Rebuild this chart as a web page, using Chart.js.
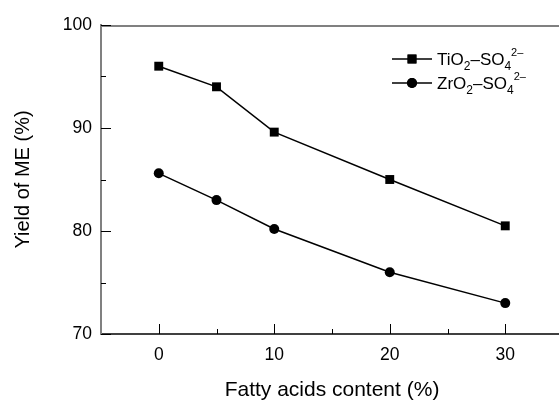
<!DOCTYPE html>
<html>
<head>
<meta charset="utf-8">
<script src="https://cdn.jsdelivr.net/npm/chart.js@4"></script>
<style>
  html, body { margin: 0; padding: 0; background: #fff; overflow: hidden; }
  #wrap { width: 570px; height: 401px; }
</style>
</head>
<body>
<div id="wrap"><canvas id="yieldChart" width="570" height="401"></canvas></div>
<script>
var fattyAcids = [0, 5, 10, 20, 30];
var tio2Yield = [96, 94, 89.6, 85, 80.5];
var zro2Yield = [85.6, 83, 80.2, 76, 73];
var xTicks = [0, 10, 20, 30];
var yTicks = [70, 80, 90, 100];

// legend text pieces: [text, "" | "sub" | "sup"]
var tio2Name = [["TiO", ""], ["2", "sub"], ["\u2013SO", ""], ["4", "sub"], ["2\u2013", "sup"]];
var zro2Name = [["ZrO", ""], ["2", "sub"], ["\u2013SO", ""], ["4", "sub"], ["2\u2013", "sup"]];

var FONT = "'Liberation Sans', Arial, sans-serif";

function points(ys) {
  var out = [];
  for (var i = 0; i < fattyAcids.length; i++) {
    out.push({ x: fattyAcids[i], y: ys[i] });
  }
  return out;
}

var frame = {
  id: "frame",
  afterDraw: function (chart) {
    var ctx = chart.ctx;
    var a = chart.chartArea;
    var x = chart.scales.x;
    var y = chart.scales.y;
    ctx.save();
    // top border
    ctx.strokeStyle = "#808080";
    ctx.lineWidth = 2;
    ctx.beginPath();
    ctx.moveTo(a.left, a.top + 1);
    ctx.lineTo(a.right, a.top + 1);
    ctx.stroke();

    // inward ticks
    ctx.strokeStyle = "#000";
    ctx.lineWidth = 1;
    ctx.beginPath();
    for (var i = 0; i < xTicks.length; i++) {
      var px = Math.round(x.getPixelForValue(xTicks[i])) + 0.5;
      ctx.moveTo(px, a.bottom);
      ctx.lineTo(px, a.bottom - 10);
      var mx = Math.round(x.getPixelForValue(xTicks[i] + 5)) + 0.5;
      ctx.moveTo(mx, a.bottom);
      ctx.lineTo(mx, a.bottom - 5);
    }
    for (var j = 0; j < yTicks.length; j++) {
      var py = Math.round(y.getPixelForValue(yTicks[j])) + 0.5;
      ctx.moveTo(a.left, py);
      ctx.lineTo(a.left + 10, py);
      if (j < yTicks.length - 1) {
        var my = Math.round(y.getPixelForValue(yTicks[j] + 5)) + 0.5;
        ctx.moveTo(a.left, my);
        ctx.lineTo(a.left + 5, my);
      }
    }
    ctx.stroke();

    // legend
    var rows = [tio2Name, zro2Name];
    for (var r = 0; r < rows.length; r++) {
      var cy = 59 + r * 24;
      var ds = chart.data.datasets[r];
      ctx.strokeStyle = ds.borderColor;
      ctx.lineWidth = 1.5;
      ctx.beginPath();
      ctx.moveTo(392, cy);
      ctx.lineTo(432, cy);
      ctx.stroke();
      Chart.helpers.drawPoint(ctx, {
        pointStyle: ds.pointStyle,
        radius: ds.pointRadius,
        borderWidth: 0
      }, 412, cy);
      ctx.fillStyle = "#000";
      ctx.fill();

      var tx = 437;
      var base = cy + 5.5;
      ctx.textBaseline = "alphabetic";
      ctx.textAlign = "left";
      for (var k = 0; k < rows[r].length; k++) {
        var part = rows[r][k];
        var size = 17, dy = 0;
        if (part[1] === "sub") { size = 12; dy = 5; }
        if (part[1] === "sup") { size = 11; dy = -9; }
        ctx.font = size + "px " + FONT;
        ctx.fillText(part[0], tx, base + dy);
        tx += ctx.measureText(part[0]).width;
      }
    }
    ctx.restore();
  }
};

var ctx = document.getElementById("yieldChart").getContext("2d");
var myChart = new Chart(ctx, {
  type: "line",
  data: {
    datasets: [
      {
        label: "TiO2-SO4 2-",
        data: points(tio2Yield),
        borderColor: "#000",
        backgroundColor: "#000",
        borderWidth: 1.5,
        pointStyle: "rect",
        pointRadius: 6.3,
        pointBorderWidth: 0,
        tension: 0
      },
      {
        label: "ZrO2-SO4 2-",
        data: points(zro2Yield),
        borderColor: "#000",
        backgroundColor: "#000",
        borderWidth: 1.5,
        pointStyle: "circle",
        pointRadius: 5,
        pointBorderWidth: 0,
        tension: 0
      }
    ]
  },
  options: {
    responsive: false,
    animation: false,
    layout: { padding: { left: 0, top: 25, right: 7, bottom: 0 } },
    plugins: {
      legend: { display: false },
      tooltip: { enabled: false }
    },
    scales: {
      x: {
        type: "linear",
        min: -5,
        max: 35,
        afterBuildTicks: function (s) {
          s.ticks = xTicks.map(function (v) { return { value: v }; });
        },
        afterFit: function (s) { s.height = 67; },
        grid: { display: false, drawTicks: false },
        border: { display: true, color: "#404040", width: 2 },
        ticks: { padding: 11, color: "#000", font: { family: FONT, size: 17.5 } },
        title: {
          display: true,
          text: "Fatty acids content (%)",
          color: "#000",
          font: { family: FONT, size: 21 },
          padding: { top: 0, bottom: -2 }
        }
      },
      y: {
        min: 70,
        max: 100,
        afterBuildTicks: function (s) {
          s.ticks = yTicks.map(function (v) { return { value: v }; });
        },
        afterFit: function (s) { s.width = 101; },
        grid: { display: false, drawTicks: false },
        border: { display: true, color: "#808080", width: 2 },
        ticks: { padding: 9, color: "#000", font: { family: FONT, size: 17.5 } },
        title: {
          display: true,
          text: "Yield of ME (%)",
          color: "#000",
          font: { family: FONT, size: 20 },
          padding: { top: 11, bottom: 0 }
        }
      }
    }
  },
  plugins: [frame]
});
</script>
</body>
</html>
